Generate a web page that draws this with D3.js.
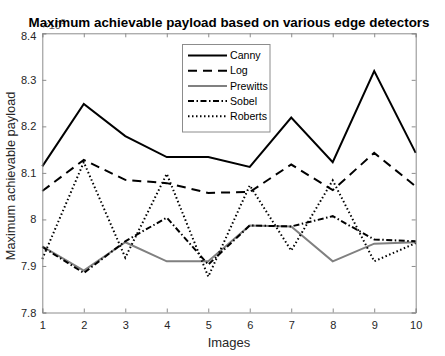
<!DOCTYPE html>
<html><head><meta charset="utf-8">
<script src="https://cdn.jsdelivr.net/npm/d3@7"></script>
<style>body{margin:0;background:#fff}svg{display:block}text{font-family:"Liberation Sans",Arial,sans-serif}</style>
</head><body><svg id="c" width="445" height="356"></svg>
<script>
const images = [1,2,3,4,5,6,7,8,9,10];
const canny    = [8.114,8.248,8.179,8.134,8.134,8.113,8.219,8.123,8.319,8.143];
const logS     = [8.061,8.128,8.085,8.078,8.057,8.059,8.118,8.063,8.143,8.071];
const prewitts = [7.942,7.890,7.951,7.910,7.910,7.987,7.985,7.910,7.948,7.951];
const sobel    = [7.941,7.885,7.953,8.004,7.903,7.987,7.985,8.007,7.957,7.953];
const roberts  = [7.915,8.123,7.918,8.098,7.877,8.073,7.933,8.084,7.910,7.949];
const seriesNames = ["Canny","Log","Prewitts","Sobel","Roberts"];
const yTicks = [7.8,7.9,8.0,8.1,8.2,8.3,8.4];
const yTickLabels = ["7.8","7.9","8","8.1","8.2","8.3","8.4"];
const titleText = "Maximum achievable payload based on various edge detectors";
const xLabel = "Images", yLabel = "Maximum achievable payload";

const series = [
  {name:seriesNames[0], v:canny,    color:"#000", dash:null},
  {name:seriesNames[1], v:logS,     color:"#000", dash:"9,6"},
  {name:seriesNames[2], v:prewitts, color:"#808080", dash:null},
  {name:seriesNames[3], v:sobel,    color:"#000", dash:"6,2.5,1.5,2.5"},
  {name:seriesNames[4], v:roberts,  color:"#000", dash:"1.5,2.5"}
];

const L=42.3, R=415.7, T=33.3, B=312.5;
const svg = d3.select("#c");
const x = d3.scaleLinear().domain([1,10]).range([L,R]);
const y = d3.scaleLinear().domain([7.8,8.4]).range([B,T]);
const axisCol = "#8c8c8c", txtCol = "#262626";

// exponent label (under title)
const ex = svg.append("text").attr("x",L).attr("y",29).attr("font-size",11).attr("fill","#555");
ex.append("tspan").text("\u00d710");
ex.append("tspan").attr("dy",-5).attr("font-size",8).text("5");

// lines
const line = d3.line().x((d,i)=>x(images[i])).y(d=>y(d));
series.forEach(s=>{
  svg.append("path").datum(s.v).attr("d",line).attr("fill","none")
    .attr("stroke",s.color).attr("stroke-width",2)
    .attr("stroke-dasharray",s.dash).attr("stroke-linejoin","miter");
});

// axes
const xb = svg.append("g").attr("transform",`translate(0,${B})`)
  .call(d3.axisBottom(x).tickValues(images).tickSize(-4).tickPadding(9).tickFormat(d3.format("d")));
const xt = svg.append("g").attr("transform",`translate(0,${T})`)
  .call(d3.axisTop(x).tickValues(images).tickSize(-4).tickFormat(""));
const yl = svg.append("g").attr("transform",`translate(${L},0)`)
  .call(d3.axisLeft(y).tickValues(yTicks).tickSize(-4).tickPadding(6).tickFormat((d,i)=>yTickLabels[i]));
const yr = svg.append("g").attr("transform",`translate(${R},0)`)
  .call(d3.axisRight(y).tickValues(yTicks).tickSize(-4).tickFormat(""));
[xb,xt,yl,yr].forEach(g=>{
  g.select(".domain").attr("stroke",axisCol).attr("stroke-width",1);
  g.selectAll(".tick line").attr("stroke",axisCol);
  g.selectAll("text").attr("font-size",11).attr("fill",txtCol).attr("font-family","Liberation Sans, Arial, sans-serif");
});
yl.selectAll(".tick text").filter(d=>d===8.4).attr("dy","0.55em");

// labels
svg.append("text").attr("x",(L+R)/2).attr("y",347).attr("text-anchor","middle")
  .attr("font-size",13).attr("fill",txtCol).text(xLabel);
svg.append("text").attr("transform",`translate(15,${(T+B)/2 + 3}) rotate(-90)`).attr("text-anchor","middle")
  .attr("font-size",12.8).attr("fill",txtCol).text(yLabel);
svg.append("text").attr("x",(L+R)/2).attr("y",26.5).attr("text-anchor","middle")
  .attr("font-size",13).attr("font-weight","bold").attr("fill","#000")
  .attr("textLength",401).attr("lengthAdjust","spacingAndGlyphs").text(titleText);

// legend
const lg = svg.append("g");
lg.append("rect").attr("x",182.5).attr("y",44.5).attr("width",87.5).attr("height",87.5)
  .attr("fill","#fff").attr("stroke",axisCol).attr("stroke-width",1);
series.forEach((s,i)=>{
  const yy = 55.5 + i*15.2;
  lg.append("line").attr("x1",188).attr("x2",227).attr("y1",yy).attr("y2",yy)
    .attr("stroke",s.color).attr("stroke-width",2).attr("stroke-dasharray",s.dash);
  lg.append("text").attr("x",230).attr("y",yy).attr("dy","0.35em").attr("font-size",10.6)
    .attr("fill","#000").text(s.name);
});
</script></body></html>
